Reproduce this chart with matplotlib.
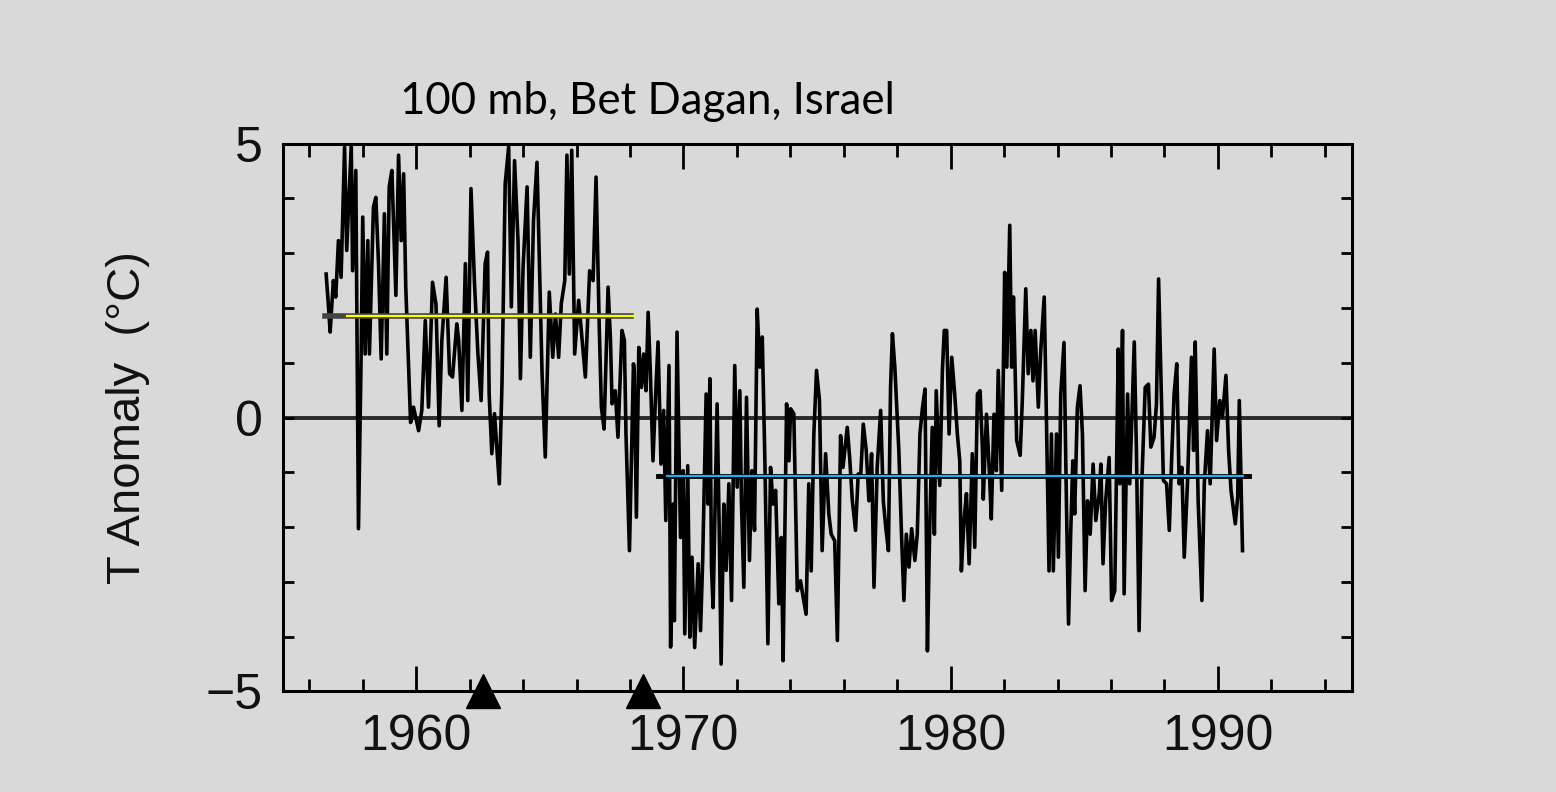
import matplotlib
matplotlib.use("Agg")
import matplotlib.pyplot as plt
from matplotlib.ticker import MultipleLocator

# monthly-ish 100 mb temperature anomaly
years = [
    1956.63, 1956.72, 1956.78, 1956.90, 1956.99, 1957.09, 1957.19, 1957.32, 1957.40, 1957.57,
    1957.62, 1957.74, 1957.84, 1957.94, 1958.00, 1958.09, 1958.19, 1958.25, 1958.40, 1958.49,
    1958.59, 1958.69, 1958.81, 1958.90, 1958.99, 1959.09, 1959.24, 1959.34, 1959.44, 1959.53,
    1959.61, 1959.69, 1959.79, 1959.90, 1960.09, 1960.21, 1960.34, 1960.46, 1960.61, 1960.74,
    1960.86, 1960.96, 1961.12, 1961.25, 1961.36, 1961.52, 1961.59, 1961.71, 1961.84, 1961.93,
    1962.05, 1962.18,
    1962.31, 1962.43, 1962.58, 1962.67, 1962.73, 1962.83, 1962.93, 1963.11, 1963.21, 1963.33,
    1963.46, 1963.56, 1963.68, 1963.81, 1963.90, 1964.00, 1964.15, 1964.27, 1964.39, 1964.52,
    1964.62, 1964.71, 1964.83, 1964.98, 1965.11, 1965.21, 1965.33, 1965.43, 1965.56, 1965.64,
    1965.73, 1965.82, 1965.93, 1966.08, 1966.21, 1966.33, 1966.49, 1966.62, 1966.73, 1966.85,
    1966.93, 1967.03, 1967.18, 1967.27, 1967.33, 1967.45, 1967.55, 1967.70, 1967.79, 1967.85,
    1967.98, 1968.13,
    1968.16, 1968.24, 1968.33, 1968.43, 1968.51, 1968.60, 1968.68, 1968.76, 1968.86, 1968.95,
    1969.05, 1969.16, 1969.26, 1969.34, 1969.46, 1969.52, 1969.61, 1969.66, 1969.76, 1969.89,
    1969.99, 1970.05, 1970.16, 1970.24, 1970.32, 1970.42, 1970.55, 1970.64, 1970.72, 1970.85,
    1970.92, 1970.99, 1971.05, 1971.11, 1971.26, 1971.34, 1971.41, 1971.51, 1971.60, 1971.70,
    1971.80, 1971.92, 1972.01, 1972.11, 1972.17, 1972.26, 1972.36, 1972.47, 1972.56, 1972.66,
    1972.76, 1972.86, 1972.95, 1973.05, 1973.16, 1973.26, 1973.35, 1973.45, 1973.57, 1973.66,
    1973.73, 1973.86, 1973.95,
    1974.01, 1974.13, 1974.26, 1974.38, 1974.48, 1974.59, 1974.69, 1974.78, 1974.88, 1974.98,
    1975.09, 1975.19, 1975.32, 1975.44, 1975.53, 1975.66, 1975.76, 1975.88, 1975.97, 1976.13,
    1976.22, 1976.32, 1976.44, 1976.54, 1976.63, 1976.73, 1976.84, 1976.94, 1977.04, 1977.13,
    1977.25, 1977.38, 1977.48, 1977.57, 1977.67, 1977.75, 1977.82, 1977.91, 1978.06, 1978.16,
    1978.25, 1978.34, 1978.44, 1978.54, 1978.66, 1978.75, 1978.85, 1978.94, 1979.04, 1979.13,
    1979.21, 1979.31, 1979.39, 1979.46, 1979.59, 1979.69, 1979.76,
    1979.85, 1979.94, 1980.04, 1980.15, 1980.25, 1980.34, 1980.40, 1980.50, 1980.59, 1980.69,
    1980.81, 1980.90, 1981.00, 1981.10, 1981.19, 1981.22, 1981.34, 1981.44, 1981.52, 1981.62,
    1981.71, 1981.78, 1981.91, 1982.02, 1982.10, 1982.21, 1982.28, 1982.35, 1982.47, 1982.60,
    1982.68, 1982.81, 1982.90, 1983.00, 1983.08, 1983.16, 1983.28, 1983.37, 1983.50, 1983.58,
    1983.68, 1983.77, 1983.84, 1983.96, 1984.03, 1984.12, 1984.24, 1984.33, 1984.41, 1984.49,
    1984.57, 1984.64, 1984.74, 1984.84, 1984.93, 1985.03, 1985.12, 1985.22, 1985.33, 1985.43,
    1985.56,
    1985.62, 1985.70, 1985.80, 1985.93, 1986.02, 1986.14, 1986.27, 1986.33, 1986.43, 1986.49,
    1986.62, 1986.70, 1986.87, 1986.95, 1987.05, 1987.15, 1987.28, 1987.40, 1987.49, 1987.61,
    1987.70, 1987.78, 1987.89, 1987.96, 1988.08, 1988.18, 1988.28, 1988.36, 1988.46, 1988.55,
    1988.65, 1988.74, 1988.86, 1989.01, 1989.09, 1989.15, 1989.26, 1989.40, 1989.49, 1989.61,
    1989.71, 1989.86, 1989.95, 1990.07, 1990.17, 1990.30, 1990.40, 1990.49, 1990.65, 1990.74,
    1990.80, 1990.92,
]
anomaly = [
    2.62, 2.02, 1.56, 2.50, 2.20, 3.23, 2.56, 4.94, 3.05, 4.97,
    2.68, 4.51, -2.03, 1.16, 3.66, 1.16, 3.23, 1.16, 3.84, 4.02,
    2.81, 1.07, 3.72, 1.16, 4.21, 4.51, 2.23, 4.79, 3.23, 4.45,
    2.38, 1.28, -0.09, 0.19, -0.24, 0.13, 1.77, 0.19, 2.47, 2.07,
    -0.15, 1.41, 2.56, 0.80, 0.74, 1.71, 1.41, 0.13, 2.81, 0.31,
    4.18, 2.47,
    1.16, 0.31, 2.81, 3.02, 0.43, -0.66, 0.07, -1.21, 0.61, 4.27,
    4.94, 2.02, 4.69, 3.23, 0.71, 2.75, 4.21, 1.10, 3.60, 4.66,
    2.62, 0.80, -0.72, 2.29, 1.10, 1.89, 1.10, 2.08, 2.50, 4.79,
    2.62, 4.88, 1.16, 2.14, 1.41, 0.74, 2.68, 2.50, 4.39, 1.65,
    0.19, -0.21, 2.38, 1.41, 0.25, 0.49, -0.36, 1.59, 1.41, -0.30,
    -2.43, 0.98,
    0.86, -1.82, 1.28, 0.55, 1.16, 0.49, 1.92, 0.86, -0.79, 0.31,
    1.38, -0.85, 0.13, -1.88, 0.95, -4.19, -1.58, -3.71, 1.56, -2.19,
    -0.97, -3.95, -0.88, -4.01, -2.55, -4.20, -2.67, -3.89, -2.61, 0.43,
    -1.58, 0.71, -2.73, -3.47, 0.25, -2.06, -4.50, -1.58, -2.79, -1.21,
    -3.34, 0.95, -1.27, 0.49, -1.52, -3.10, 0.37, -2.61, -0.97, -2.06,
    1.98, 0.92, 1.47, -0.85, -4.13, -0.91, -1.58, -1.33, -3.40, -2.19,
    -4.44, 0.25, -0.79,
    0.16, 0.07, -3.16, -2.98, -3.28, -3.59, -1.21, -2.80, -0.30, 0.86,
    0.31, -2.43, -0.66, -1.76, -2.13, -2.25, -4.07, -0.33, -0.91, -0.18,
    -0.73, -1.52, -2.06, -1.03, -1.09, -0.12, -0.60, -1.52, -0.66, -3.10,
    -0.91, 0.13, -1.52, -2.00, -2.43, 0.55, 1.53, 0.92, -0.60, -2.13,
    -3.34, -2.13, -2.73, -2.03, -2.61, -2.13, -0.30, 0.16, 0.52, -4.26,
    -2.13, -0.18, -2.13, 0.49, -1.24, 0.86, 1.59,
    1.59, -0.30, 1.10, 0.43, -0.30, -0.79, -2.80, -1.88, -1.39, -2.67,
    -0.66, -2.37, 0.43, 0.49, -0.60, -1.49, 0.06, -0.91, -1.85, 0.06,
    -0.97, 0.86, -1.33, 2.65, 0.92, 3.51, 0.92, 2.20, -0.42, -0.69,
    0.31, 2.35, 0.80, 1.59, 0.67, 1.59, 0.19, 1.22, 2.20, 0.06,
    -2.80, -0.30, -2.80, -0.30, -2.55, 0.43, 1.37, -1.52, -3.77, -2.13,
    -0.79, -1.76, 0.19, 0.58, -0.30, -3.16, -1.52, -2.13, -0.85, -1.88,
    -1.39,
    -0.85, -2.67, -1.52, -0.73, -3.34, -3.16, 1.25, -1.21, 1.59, -3.22,
    0.43, -1.21, 1.38, -0.60, -3.89, -1.21, 0.55, 0.61, -0.54, -0.36,
    0.25, 2.53, 0.31, -1.15, -1.21, -2.06, -0.60, 0.43, 0.98, -1.21,
    -0.91, -2.55, -1.21, 1.10, -0.60, 1.38, -1.52, -3.34, -1.21, -0.24,
    -1.21, 1.25, -0.42, 0.31, 0.01, 0.77, -0.60, -1.33, -1.94, -1.45,
    0.31, -2.43,
]

# period means (before / after 1969) and volcanic eruptions
mean_early = 1.86
mean_early_span = [1956.6, 1968.05]
mean_early_hl = [1957.4, 1968.15]
mean_late = -1.07
mean_late_span = [1969.05, 1991.15]
mean_late_hl = [1969.4, 1990.95]
eruptions = [1962.5, 1968.5]

bg = "#d9d9d9"
fig = plt.figure(figsize=(15.56, 7.92), dpi=100, facecolor=bg)
ax = fig.add_axes([0.1816, 0.127, 0.687, 0.6916], facecolor=bg)

ax.axhline(0, color="#2a2a2a", lw=2.8, zorder=1)
ax.plot(years, anomaly, color="black", lw=2.6, zorder=2)

ax.plot(mean_early_span, [mean_early, mean_early], color="#444444", lw=4, zorder=3)
ax.plot(mean_early_hl, [mean_early, mean_early], color="#ffff00", lw=1.6, zorder=4)
ax.plot(mean_late_span, [mean_late, mean_late], color="black", lw=3.5, zorder=3)
ax.plot(mean_late_hl, [mean_late, mean_late], color="#1fb0e6", lw=1.6, zorder=4)

ax.plot(eruptions, [-5] * len(eruptions), linestyle="none", marker="^",
        color="black", markersize=24, clip_on=False, zorder=5)

ax.set_xlim(1955, 1995)
ax.set_ylim(-5, 5)
ax.xaxis.set_major_locator(MultipleLocator(10))
ax.xaxis.set_minor_locator(MultipleLocator(2))
ax.yaxis.set_minor_locator(MultipleLocator(1))
ax.set_yticks([-5, 0, 5])
ax.set_yticklabels(["\u22125", "0", "5"])

for sp in ax.spines.values():
    sp.set_linewidth(2.2)
    sp.set_color("black")

ax.tick_params(axis="x", which="major", direction="in", length=18, width=2,
               top=True, bottom=True, pad=16, labelsize=36, labelcolor="#111111")
ax.tick_params(axis="x", which="minor", direction="in", length=9, width=2,
               top=True, bottom=True)
ax.tick_params(axis="y", which="both", direction="in", length=8, width=2,
               left=True, right=True, pad=14, labelsize=36, labelcolor="#111111")
for lab in ax.get_xticklabels() + ax.get_yticklabels():
    lab.set_fontfamily("Liberation Sans")

fig.text(0.257, 0.872, "100 mb, Bet Dagan, Israel", fontsize=31.5,
         family="Lato", ha="left", va="center", color="black")
fig.text(0.0823, 0.473, "T Anomaly  (\u00b0C)", fontsize=34, rotation=90,
         family="Liberation Sans", ha="center", va="center", color="#111111")

fig.savefig("out.png", dpi=100, facecolor=bg)
